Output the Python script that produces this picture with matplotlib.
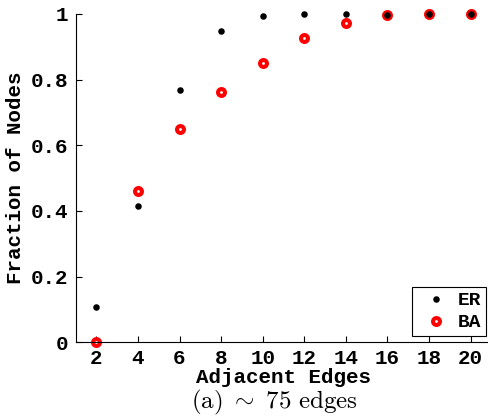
import numpy as np
import matplotlib
matplotlib.use("Agg")
import matplotlib.pyplot as plt

plt.rcParams['mathtext.fontset'] = 'cm'

# fraction of nodes reached vs number of adjacent edges
edges = [2, 4, 6, 8, 10, 12, 14, 16, 18, 20]
er_frac = [0.108, 0.416, 0.767, 0.947, 0.995, 1.0, 1.0, 0.998, 1.0, 1.0]
ba_frac = [0.0, 0.462, 0.650, 0.763, 0.852, 0.927, 0.974, 0.998, 1.0, 1.0]
yticks = [0, 0.2, 0.4, 0.6, 0.8, 1]
ytick_labels = ['0', '0.2', '0.4', '0.6', '0.8', '1']

mono = {'family': 'Liberation Mono', 'weight': 'bold'}

fig = plt.figure(figsize=(4.89, 4.2), dpi=100)
ax = fig.add_axes([75.5 / 489, 77.7 / 420, 416 / 489, 328.3 / 420])

ba, = ax.plot(edges, ba_frac, 'o', ms=5, mfc='white', mec='red', mew=2.9,
              linestyle='none', clip_on=False)
er, = ax.plot(edges, er_frac, 'o', ms=4.7, color='black', mew=0,
              linestyle='none', clip_on=False)

ax.set_xlim(1, 21)
ax.set_ylim(0, 1)
ax.set_xticks(edges)
ax.set_xticklabels([str(e) for e in edges], fontdict=mono, fontsize=15)
ax.set_yticks(yticks)
ax.set_yticklabels(ytick_labels, fontdict=mono, fontsize=15)
ax.tick_params(direction='in', length=4, width=0.8, pad=5)

ax.spines['top'].set_visible(False)
ax.spines['right'].set_visible(False)
ax.spines['left'].set_linewidth(0.8)
ax.spines['bottom'].set_linewidth(0.8)

ax.set_xlabel('Adjacent Edges', fontdict=mono, fontsize=15, labelpad=0)
ax.set_ylabel('Fraction of Nodes', fontdict=mono, fontsize=15, labelpad=4)

leg = ax.legend([er, ba], ['ER', 'BA'], loc='lower right',
                bbox_to_anchor=(486 / 489, 84 / 420), bbox_transform=fig.transFigure,
                borderaxespad=0,
                prop={'family': 'Liberation Mono', 'weight': 'bold', 'size': 14},
                fancybox=False, edgecolor='black', framealpha=1,
                handletextpad=0.15, borderpad=0.25, labelspacing=0.25,
                handlelength=1.97, handleheight=0.6)
leg.get_frame().set_linewidth(0.8)

fig.text(274 / 489, 1 - 402 / 420, r'$\mathrm{(a)}\ \sim\ 75\ \mathrm{edges}$',
         ha='center', va='center', fontsize=18)

fig.savefig('out.png', dpi=100)
